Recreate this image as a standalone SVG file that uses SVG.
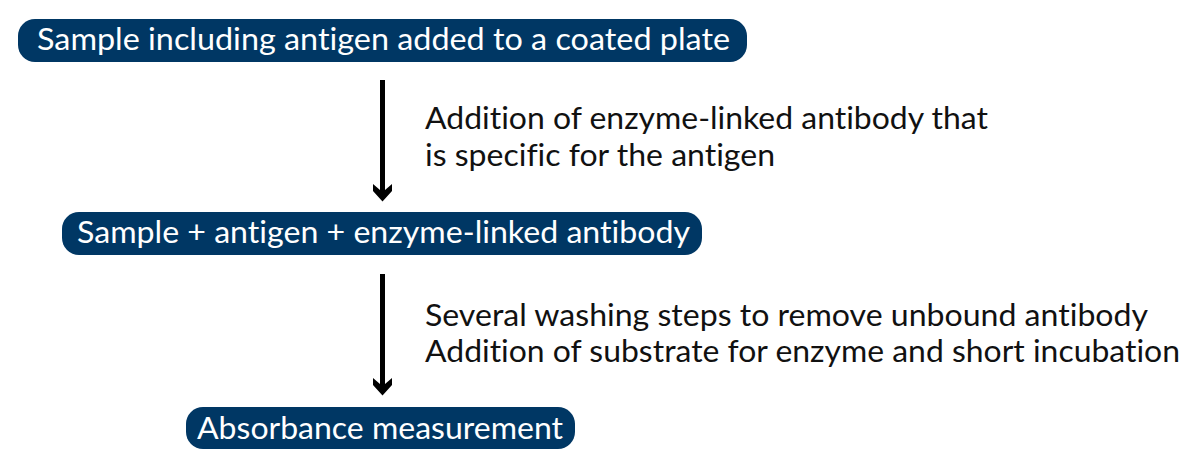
<svg xmlns="http://www.w3.org/2000/svg" width="1200" height="469" viewBox="0 0 1200 469">
  <style>
    .box { fill: #003764; }
    .lbl { font-family: Lato, "Open Sans", "Liberation Sans", sans-serif; font-size: 30px; fill: #ffffff; font-variant-ligatures: none; }
    .note { font-family: Lato, "Open Sans", "Liberation Sans", sans-serif; font-size: 31px; fill: #111111; font-variant-ligatures: none; }
    .shaft { fill: #000000; }
  </style>
  <rect width="1200" height="469" fill="#ffffff"/>
  <g id="connectors">
    <path class="shaft" d="M380,80 H385 V190 L392,184 V191 L382.5,201.5 L373,191 V184 L380,190 Z"/>
    <path class="shaft" d="M380,274 H385 V384 L392,378 V385 L382.5,395.5 L373,385 V378 L380,384 Z"/>
  </g>
  <g id="node-sample-plate">
    <rect class="box" x="18" y="19" width="729" height="43" rx="17"/>
    <text class="lbl" x="37" y="50" textLength="693" lengthAdjust="spacingAndGlyphs">Sample including antigen added to a coated plate</text>
  </g>
  <g id="node-sample-antibody">
    <rect class="box" x="62" y="212" width="640" height="43" rx="17"/>
    <text class="lbl" x="77" y="243" textLength="613" lengthAdjust="spacingAndGlyphs">Sample + antigen + enzyme-linked antibody</text>
  </g>
  <g id="node-absorbance">
    <rect class="box" x="186" y="407" width="389" height="42" rx="17"/>
    <text class="lbl" x="197" y="439" textLength="366" lengthAdjust="spacingAndGlyphs">Absorbance measurement</text>
  </g>
  <g id="note-1">
    <text class="note" x="425" y="129" textLength="563" lengthAdjust="spacingAndGlyphs">Addition of enzyme-linked antibody that</text>
    <text class="note" x="425" y="166" textLength="350" lengthAdjust="spacingAndGlyphs">is specific for the antigen</text>
  </g>
  <g id="note-2">
    <text class="note" x="425" y="326" textLength="723" lengthAdjust="spacingAndGlyphs">Several washing steps to remove unbound antibody</text>
    <text class="note" x="425" y="362" textLength="755" lengthAdjust="spacingAndGlyphs">Addition of substrate for enzyme and short incubation</text>
  </g>
</svg>
